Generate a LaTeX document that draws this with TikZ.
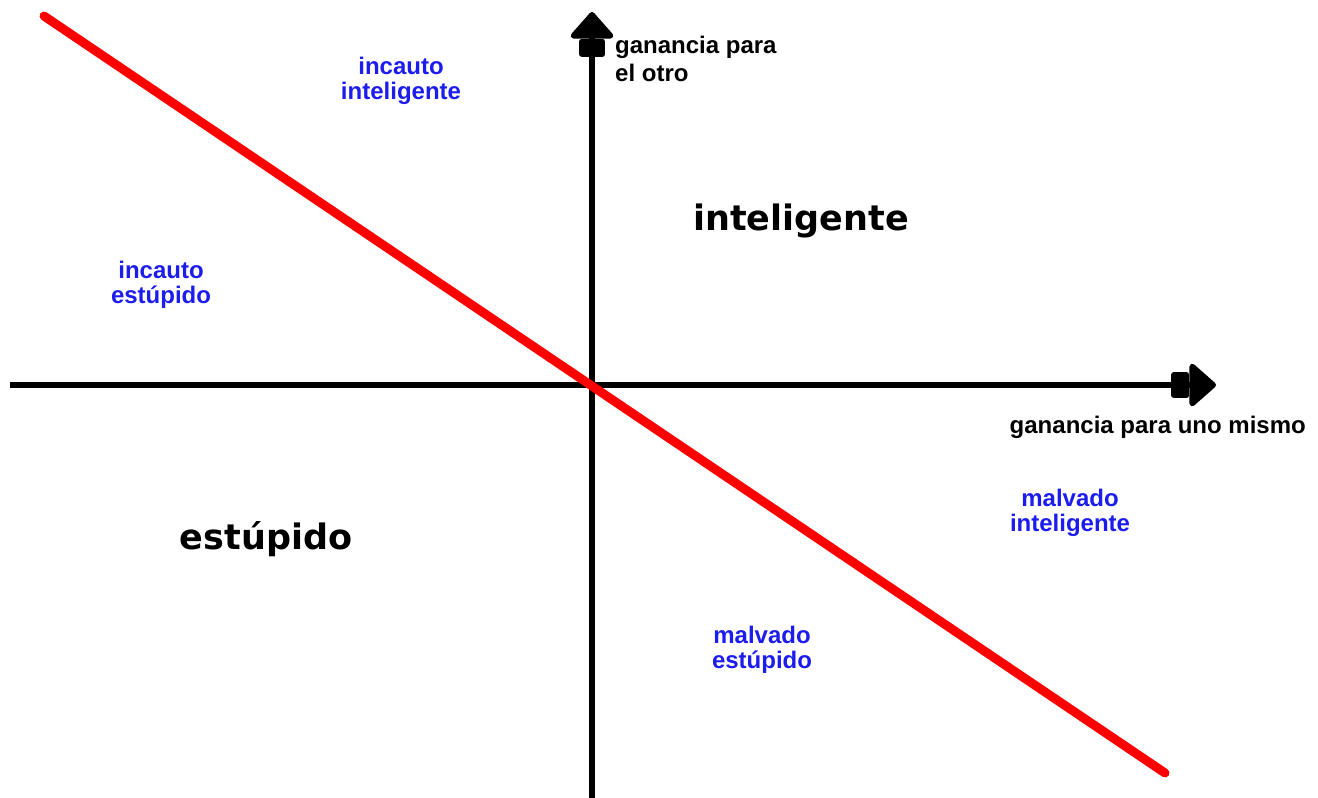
\documentclass[tikz,border=0pt]{standalone}
\usepackage{fontspec}
\setmainfont{Liberation Sans}
\newfontfamily\bigfont{DejaVu Sans}
\usetikzlibrary{arrows.meta}
\definecolor{lblue}{RGB}{28,28,238}
\tikzset{
  blk/.style={line width=5.5pt,-{Square[length=18pt,width=26pt,sep=0pt,round]Triangle[length=28pt,width=48pt,round]}},
  axlab/.style={font=\bfseries\fontsize{24}{28}\selectfont,align=left,inner sep=0pt},
  quad/.style={font=\bfseries\fontsize{24}{25}\selectfont,text=lblue,align=center,inner sep=0pt},
  zone/.style={font=\bigfont\bfseries\fontsize{35}{38}\selectfont,inner sep=0pt}
}
\begin{document}
\begin{tikzpicture}[x=1pt,y=-1pt]
\useasboundingbox (0,0) rectangle (1318,798);
\coordinate (O) at (592,385);
\coordinate (xa) at (10,385);
\coordinate (xb) at (1216,385);
\coordinate (ya) at (592,798);
\coordinate (yb) at (592,12);
\coordinate (r1) at (44,16);
\coordinate (r2) at (1165,773);
\draw[blk](xa)--(xb);
\draw[blk](ya)--(yb);
\draw[red,line width=9pt,line cap=round](r1)--(r2);
\node[axlab,anchor=north west] (ylab) at (615,36) {ganancia para\\el otro};
\node[axlab,anchor=north east] (xlab) at (1306,416) {ganancia para uno mismo};
\node[zone] (intel) at (801,221) {inteligente};
\node[zone] (estup) at (266,539) {estúpido};
\node[quad] (ii) at (401,81) {incauto\\inteligente};
\node[quad] (ie) at (161,285) {incauto\\estúpido};
\node[quad] (mi) at (1070,513) {malvado\\inteligente};
\node[quad] (me) at (762,650) {malvado\\estúpido};

\end{tikzpicture}
\end{document}
